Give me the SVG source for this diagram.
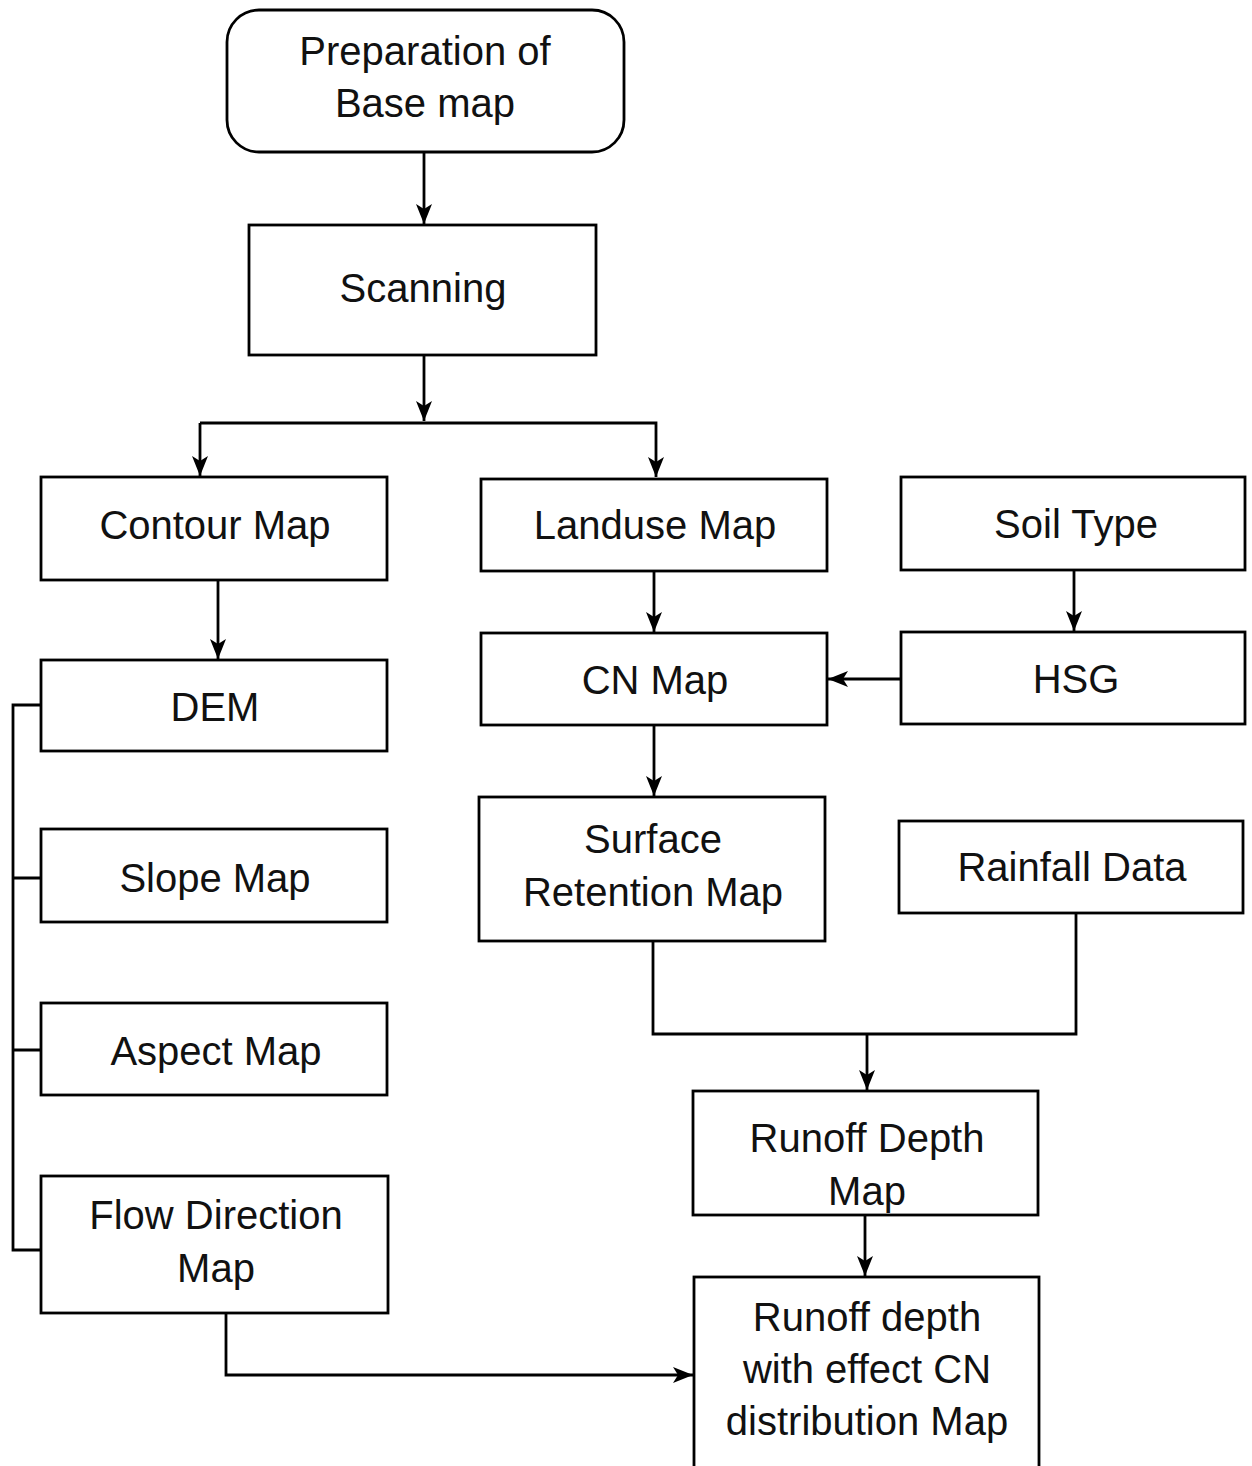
<svg xmlns="http://www.w3.org/2000/svg" width="1252" height="1466" viewBox="0 0 1252 1466">
  <style>
    .box { fill: #ffffff; stroke: #000000; stroke-width: 2.8; }
    .lbl { font-family: "Liberation Sans", Arial, sans-serif; font-size: 40px; fill: #111111; text-anchor: middle; }
    .wire { fill: none; stroke: #000000; stroke-width: 2.8; }
  </style>
  <defs>
    <marker id="arrow" viewBox="0 0 20 16" refX="20" refY="8" markerWidth="20" markerHeight="16" markerUnits="userSpaceOnUse" orient="auto">
      <path d="M0,0 L20,8 L0,16 L5,8 Z" fill="#000000"/>
    </marker>
  </defs>
  <rect width="1252" height="1466" fill="#ffffff"/>

  <!-- flow lines between the boxes -->
  <g id="connectors">
    <path class="wire" d="M424,152 V224" marker-end="url(#arrow)"/>
    <path class="wire" d="M424,355 V421" marker-end="url(#arrow)"/>
    <path class="wire" d="M200,423 H656 V477" marker-end="url(#arrow)"/>
    <path class="wire" d="M200,423 V476" marker-end="url(#arrow)"/>
    <path class="wire" d="M218,580 V659" marker-end="url(#arrow)"/>
    <path class="wire" d="M654,571 V632" marker-end="url(#arrow)"/>
    <path class="wire" d="M1074,570 V631" marker-end="url(#arrow)"/>
    <path class="wire" d="M901,679 H828" marker-end="url(#arrow)"/>
    <path class="wire" d="M654,725 V796" marker-end="url(#arrow)"/>
    <path class="wire" d="M41,705 H13 V1250 H41 M13,878 H41 M13,1050 H41"/>
    <path class="wire" d="M653,941 V1034 H1076 V913"/>
    <path class="wire" d="M867,1034 V1090" marker-end="url(#arrow)"/>
    <path class="wire" d="M865,1215 V1276" marker-end="url(#arrow)"/>
    <path class="wire" d="M226,1313 V1375 H693" marker-end="url(#arrow)"/>
  </g>

  <g id="base-map">
    <rect class="box" x="227" y="10" width="397" height="142" rx="32"/>
    <text class="lbl" x="425" y="65">Preparation of</text>
    <text class="lbl" x="425" y="117">Base map</text>
  </g>
  <g id="scanning">
    <rect class="box" x="249" y="225" width="347" height="130"/>
    <text class="lbl" x="423" y="302">Scanning</text>
  </g>
  <g id="contour-map">
    <rect class="box" x="41" y="477" width="346" height="103"/>
    <text class="lbl" x="215" y="539">Contour Map</text>
  </g>
  <g id="landuse-map">
    <rect class="box" x="481" y="479" width="346" height="92"/>
    <text class="lbl" x="655" y="539">Landuse Map</text>
  </g>
  <g id="soil-type">
    <rect class="box" x="901" y="477" width="344" height="93"/>
    <text class="lbl" x="1076" y="538">Soil Type</text>
  </g>
  <g id="dem">
    <rect class="box" x="41" y="660" width="346" height="91"/>
    <text class="lbl" x="215" y="721">DEM</text>
  </g>
  <g id="cn-map">
    <rect class="box" x="481" y="633" width="346" height="92"/>
    <text class="lbl" x="655" y="694">CN Map</text>
  </g>
  <g id="hsg">
    <rect class="box" x="901" y="632" width="344" height="92"/>
    <text class="lbl" x="1076" y="693">HSG</text>
  </g>
  <g id="slope-map">
    <rect class="box" x="41" y="829" width="346" height="93"/>
    <text class="lbl" x="215" y="892">Slope Map</text>
  </g>
  <g id="surface-retention-map">
    <rect class="box" x="479" y="797" width="346" height="144"/>
    <text class="lbl" x="653" y="853">Surface</text>
    <text class="lbl" x="653" y="906">Retention Map</text>
  </g>
  <g id="rainfall-data">
    <rect class="box" x="899" y="821" width="344" height="92"/>
    <text class="lbl" x="1072" y="881">Rainfall Data</text>
  </g>
  <g id="aspect-map">
    <rect class="box" x="41" y="1003" width="346" height="92"/>
    <text class="lbl" x="216" y="1065">Aspect Map</text>
  </g>
  <g id="flow-direction-map">
    <rect class="box" x="41" y="1176" width="347" height="137"/>
    <text class="lbl" x="216" y="1229">Flow Direction</text>
    <text class="lbl" x="216" y="1282">Map</text>
  </g>
  <g id="runoff-depth-map">
    <rect class="box" x="693" y="1091" width="345" height="124"/>
    <text class="lbl" x="867" y="1152">Runoff Depth</text>
    <text class="lbl" x="867" y="1205">Map</text>
  </g>
  <g id="runoff-depth-cn-map">
    <rect class="box" x="694" y="1277" width="345" height="200"/>
    <text class="lbl" x="867" y="1331">Runoff depth</text>
    <text class="lbl" x="867" y="1383">with effect CN</text>
    <text class="lbl" x="867" y="1435">distribution Map</text>
  </g>
</svg>
